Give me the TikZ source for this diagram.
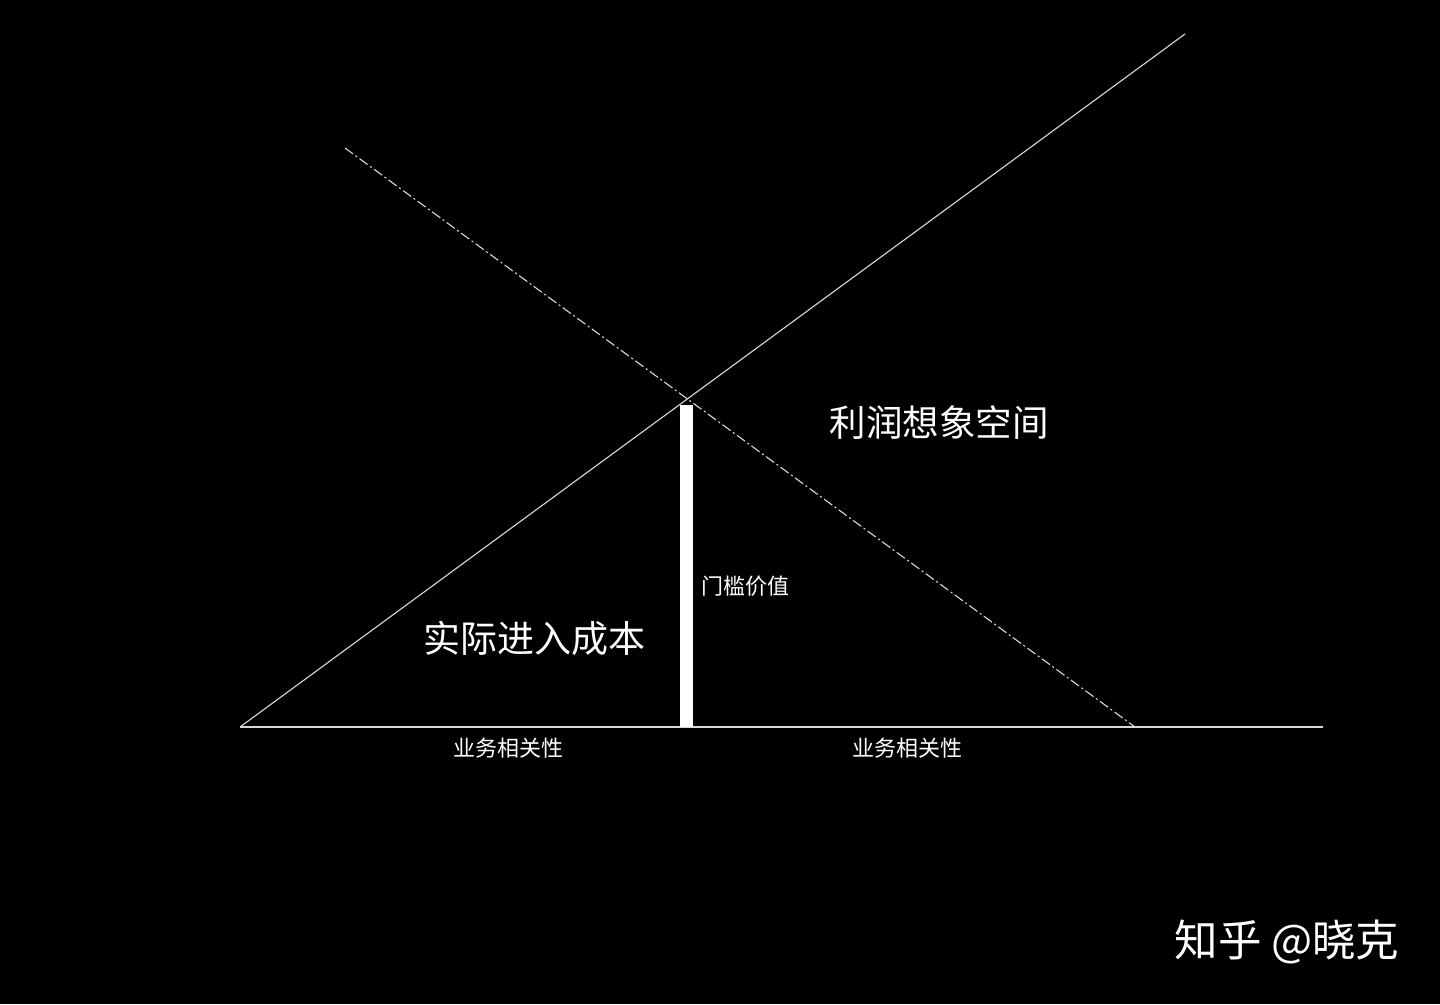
\documentclass[tikz,border=0pt]{standalone}
\usepackage{fontspec}
\newfontfamily\cjk{Noto Sans CJK SC}
\begin{document}
\begin{tikzpicture}[x=1pt,y=-1pt,
  lineS/.style={draw=white!85!black, line width=1.1pt},
  dashS/.style={draw=white!85!black, line width=1.1pt, dash pattern=on 10pt off 3pt on 2pt off 3pt},
  lbl/.style={text=white, inner sep=0pt, font=\cjk}]
\fill[black] (0,0) rectangle (1440,1004);
\useasboundingbox (0,0) rectangle (1440,1004);
\coordinate (o) at (240,727);
\coordinate (top) at (1185,34);
\coordinate (ds) at (345,148);
\coordinate (de) at (1135,727);
\coordinate (bend) at (1323,727);
\draw[lineS] (o) -- (top);
\draw[dashS] (ds) -- (de);
\draw[lineS] (o) -- (bend);
\node[fill=white, minimum width=13pt, minimum height=322pt, inner sep=0pt, anchor=south] (bar) at (686,727) {};
\node[lbl, font=\cjk\fontsize{36.5}{40}\selectfont] (p) at (939,423) {利润想象空间};
\node[lbl, font=\cjk\fontsize{37}{40}\selectfont] (c) at (534,638) {实际进入成本};
\node[lbl, font=\cjk\fontsize{22}{24}\selectfont, anchor=west] (m) at (701,586) {门槛价值};
\node[lbl, font=\cjk\fontsize{22}{24}\selectfont] (b1) at (508,748) {业务相关性};
\node[lbl, font=\cjk\fontsize{22}{24}\selectfont] (b2) at (907,748) {业务相关性};
\node[lbl, font=\cjk\fontsize{43.5}{46}\selectfont] (z) at (1287,942) {知乎 @晓克};
\end{tikzpicture}
\end{document}
